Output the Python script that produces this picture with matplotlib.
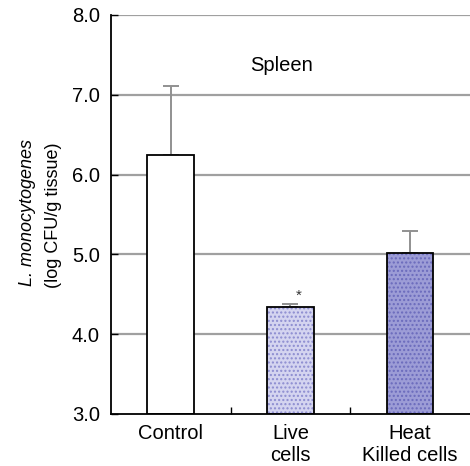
import matplotlib
matplotlib.use("Agg")
import matplotlib.pyplot as plt
import numpy as np

categories = ["Control", "Live\ncells", "Heat\nKilled cells"]
means = [6.24, 4.34, 5.02]
errors = [0.87, 0.04, 0.27]
yticks = [3.0, 4.0, 5.0, 6.0, 7.0, 8.0]

plt.rcParams['font.family'] = ['Liberation Sans', 'DejaVu Sans']

W, H = 470, 466
fig = plt.figure(figsize=(W / 100, H / 100), dpi=100)
ax = fig.add_axes([0.236, 0.1116, 0.764, 0.8564])

x = np.arange(len(categories))
face = ["white", "#d4d4f0", "#9c9cd6"]
hatchc = [None, "#8c8cd0", "#6a6abc"]

for yv in yticks[1:]:
    ax.axhline(yv, color="#a0a0a0", lw=1.6, zorder=0)

ax.errorbar(x, means, yerr=[np.zeros(3), errors], fmt="none", ecolor="#909090",
            elinewidth=1.4, capsize=5.5, capthick=1.4, zorder=1)

for i in range(3):
    ax.bar(x[i], means[i] - 3.0, bottom=3.0, width=0.39, color=face[i],
           edgecolor="none", zorder=2)
    if hatchc[i]:
        ax.bar(x[i], means[i] - 3.0, bottom=3.0, width=0.39, facecolor="none",
               edgecolor=hatchc[i], hatch="....", linewidth=0, zorder=3)
    ax.bar(x[i], means[i] - 3.0, bottom=3.0, width=0.39, facecolor="none",
           edgecolor="black", linewidth=1.3, zorder=4)

ax.text(x[1] + 0.07, means[1] + errors[1] + 0.01, "*", ha="center", va="bottom",
        fontsize=11, color="#333333")
ax.text(0.925, 7.37, "Spleen", ha="center", va="center", fontsize=14.5)

ax.set_xlim(-0.5, 2.5)
ax.set_ylim(3.0, 8.0)
ax.set_yticks(yticks)
ax.set_yticklabels([f"{v:.1f}" for v in yticks], fontsize=14.5)
ax.set_xticks([0.5, 1.5])
ax.set_xticklabels([])
ax.set_xticks(x, minor=True)
ax.set_xticklabels(categories, minor=True, fontsize=14.5, linespacing=1.2)
ax.tick_params(axis="x", which="minor", length=0, pad=7)
ax.tick_params(axis="x", which="major", direction="in", length=5, width=1)
ax.tick_params(axis="y", direction="in", length=5, width=1, pad=8)

for s in ["top", "right"]:
    ax.spines[s].set_visible(False)
ax.spines["left"].set_linewidth(1.3)
ax.spines["bottom"].set_linewidth(1.3)

fig.text(28 / W, 1 - 213 / H, "L. monocytogenes", rotation=90, ha="center",
         va="center", fontsize=13, style="italic")
fig.text(54 / W, 1 - 215 / H, "(log CFU/g tissue)", rotation=90, ha="center",
         va="center", fontsize=13)

fig.savefig("out.png", dpi=100)
